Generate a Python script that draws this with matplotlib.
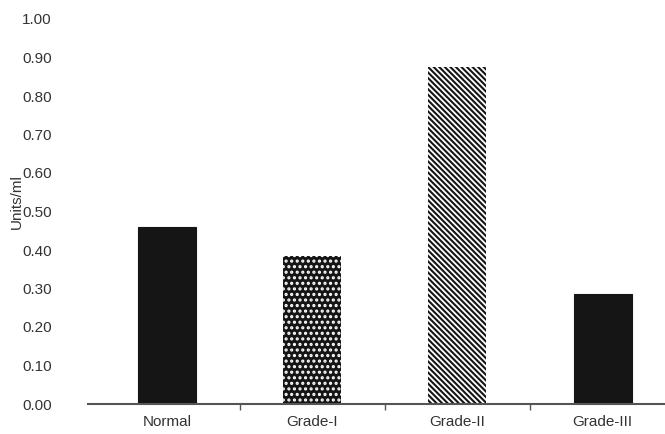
import matplotlib
matplotlib.use("Agg")
import matplotlib.pyplot as plt
import numpy as np

categories = ["Normal", "Grade-I", "Grade-II", "Grade-III"]
values = [0.46, 0.385, 0.875, 0.285]
yticks = [0.0, 0.1, 0.2, 0.3, 0.4, 0.5, 0.6, 0.7, 0.8, 0.9, 1.0]

plt.rcParams['font.family'] = ['Liberation Sans', 'DejaVu Sans']
plt.rcParams['hatch.linewidth'] = 1.5

fig = plt.figure(figsize=(6.65, 4.34), dpi=100)
ax = fig.add_axes([88 / 665, 1 - 404 / 434, 1 - 88 / 665, (404 - 19) / 434])

x = np.arange(len(categories))
bars = ax.bar(x, values, width=0.4, color="#151515", edgecolor="#151515", linewidth=0.8)

# dotted pattern on Grade-I
bars[1].set_facecolor("#151515")
bars[1].set_edgecolor("white")
bars[1].set_hatch("...")
bars[1].set_linewidth(0)
# diagonal pattern on Grade-II
bars[2].set_facecolor("white")
bars[2].set_edgecolor("#151515")
bars[2].set_hatch("\\\\\\\\\\\\")
bars[2].set_linewidth(0)

ax.set_xlim(-0.545, 3.43)
ax.set_ylim(0, 1.0)
ax.set_yticks(yticks)
ax.set_yticklabels([f"{v:.2f}" for v in yticks])
ax.set_xticks(x)
ax.set_xticklabels(categories)
ax.set_xticks([0.5, 1.5, 2.5], minor=True)

for s in ["top", "right", "left"]:
    ax.spines[s].set_visible(False)
ax.spines["bottom"].set_color("#555555")
ax.spines["bottom"].set_linewidth(1.5)

ax.tick_params(axis="y", length=0, pad=26, labelsize=11, labelcolor="#333333")
ax.tick_params(axis="x", which="major", length=0, pad=8, labelsize=11, labelcolor="#333333")
ax.tick_params(axis="x", which="minor", length=4, width=1, color="#555555", direction="out")

ax.set_ylabel("Units/ml", fontsize=11, color="#333333")
ax.yaxis.set_label_coords(-0.112, 0.527)

fig.savefig("out.png", dpi=100)
